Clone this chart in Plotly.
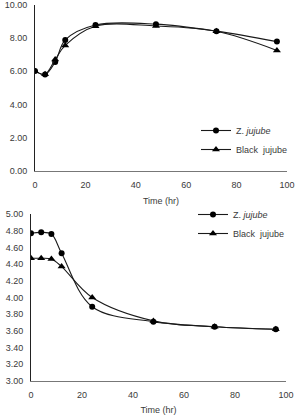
import plotly.graph_objects as go

time_hr = [0, 4, 8, 12, 24, 48, 72, 96]

top_z_jujube = [6.02, 5.80, 6.55, 7.88, 8.78, 8.83, 8.41, 7.78]
top_black_jujube = [6.00, 5.82, 6.70, 7.55, 8.70, 8.72, 8.40, 7.25]

bot_z_jujube = [4.77, 4.78, 4.76, 4.53, 3.89, 3.71, 3.65, 3.62]
bot_black_jujube = [4.47, 4.47, 4.46, 4.37, 4.00, 3.72, 3.65, 3.62]

top_yticks = [0, 2, 4, 6, 8, 10]
bot_yticks = [3.0, 3.2, 3.4, 3.6, 3.8, 4.0, 4.2, 4.4, 4.6, 4.8, 5.0]
xticks = [0, 20, 40, 60, 80, 100]

name_z = "Z. <i>jujube</i>"
name_b = "Black  jujube"

LINE = dict(color="#1a1a1a", width=1.1, shape="spline")
FONT = dict(family="Liberation Sans, Arial, sans-serif", size=9, color="#3a3a3a")

fig = go.Figure()

fig.add_trace(go.Scatter(x=time_hr, y=top_z_jujube, name=name_z, mode="lines+markers",
                         line=LINE, marker=dict(symbol="circle", size=6, color="black"),
                         xaxis="x", yaxis="y", legend="legend"))
fig.add_trace(go.Scatter(x=time_hr, y=top_black_jujube, name=name_b, mode="lines+markers",
                         line=LINE, marker=dict(symbol="triangle-up", size=7, color="black"),
                         xaxis="x", yaxis="y", legend="legend"))
fig.add_trace(go.Scatter(x=time_hr, y=bot_z_jujube, name=name_z, mode="lines+markers",
                         line=LINE, marker=dict(symbol="circle", size=6, color="black"),
                         xaxis="x2", yaxis="y2", legend="legend2"))
fig.add_trace(go.Scatter(x=time_hr, y=bot_black_jujube, name=name_b, mode="lines+markers",
                         line=LINE, marker=dict(symbol="triangle-up", size=7, color="black"),
                         xaxis="x2", yaxis="y2", legend="legend2"))

W, H = 296, 415

def px_x(p):
    return p / W

def px_y(p):
    return (H - p) / H

axis_common = dict(showgrid=False, zeroline=False, showline=True, ticks="outside",
                   ticklen=5, tickcolor="rgba(0,0,0,0)", tickfont=FONT, linewidth=1,
                   ticklabeloverflow="allow")

fig.update_layout(
    width=W, height=H,
    margin=dict(l=0, r=0, t=0, b=0, autoexpand=False),
    paper_bgcolor="white", plot_bgcolor="white",
    font=FONT,
    xaxis=dict(domain=[px_x(35), px_x(287)], range=[0, 100], tickvals=xticks,
               anchor="y", linecolor="#777777",
               title=dict(text="Time (hr)", font=FONT, standoff=8), **axis_common),
    yaxis=dict(domain=[px_y(171), px_y(4.7)], range=[0, 10], tickvals=top_yticks,
               tickformat=".2f", anchor="x", linecolor="#222222", **axis_common),
    xaxis2=dict(domain=[px_x(31), px_x(286)], range=[0, 100], tickvals=xticks,
                anchor="y2", linecolor="#777777",
                title=dict(text="Time (hr)", font=FONT, standoff=8), **axis_common),
    yaxis2=dict(domain=[px_y(381), px_y(214)], range=[3, 5], tickvals=bot_yticks,
                tickformat=".2f", anchor="x2", linecolor="#222222", **axis_common),
    legend=dict(x=px_x(196), y=px_y(116), xanchor="left", yanchor="top",
                bgcolor="rgba(0,0,0,0)", font=FONT, itemwidth=30,
                tracegroupgap=0),
    legend2=dict(x=px_x(193), y=px_y(200), xanchor="left", yanchor="top",
                 bgcolor="rgba(0,0,0,0)", font=FONT, itemwidth=30,
                 tracegroupgap=0),
    showlegend=True,
)

fig.write_html("out.html")
